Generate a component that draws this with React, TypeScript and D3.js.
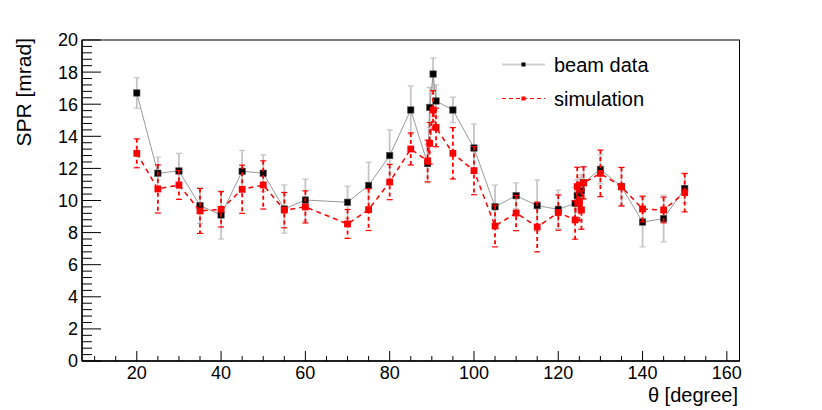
import { FC } from 'react';
import * as d3 from 'd3';

// polar angle of the beam in degrees
const theta = [20, 25, 30, 35, 40, 45, 50, 55, 60, 70, 75, 80, 85, 89, 89.5, 90.3, 91, 95, 100, 105, 110, 115, 120, 124, 124.5, 125, 125.5, 126, 130, 135, 140, 145, 150];

// beam data SPR and errors [mrad]
const beamSpr = [16.7, 11.7, 11.84, 9.68, 9.1, 11.82, 11.7, 9.47, 10.03, 9.89, 10.94, 12.8, 15.64, 12.3, 15.8, 17.88, 16.2, 15.64, 13.27, 9.61, 10.3, 9.68, 9.45, 9.82, 10.3, 10.45, 10.6, 11.1, 11.94, 10.86, 8.66, 8.87, 10.75];
const beamErr = [0.95, 1.0, 1.1, 1.1, 1.5, 1.3, 1.15, 1.5, 1.3, 1.0, 1.45, 1.6, 1.5, 1.2, 1.25, 1.0, 1.0, 0.8, 1.5, 1.35, 0.8, 1.6, 1.2, 1.0, 1.0, 1.0, 1.0, 1.0, 0.9, 1.2, 1.55, 1.45, 0.9];

// simulation SPR and errors [mrad]
const simSpr = [12.94, 10.72, 10.97, 9.35, 9.45, 10.7, 10.97, 9.4, 9.6, 8.54, 9.43, 11.15, 13.21, 12.46, 13.56, 15.64, 14.55, 12.94, 11.86, 8.41, 9.22, 8.35, 9.25, 8.79, 10.87, 9.93, 9.41, 11.1, 11.69, 10.86, 9.47, 9.41, 10.49];
const simErr = [0.9, 1.5, 0.9, 1.4, 1.1, 1.5, 1.5, 1.1, 1.0, 0.9, 1.3, 1.1, 1.0, 1.3, 1.3, 1.2, 1.2, 1.6, 1.5, 1.3, 1.1, 1.55, 1.1, 1.2, 1.2, 1.2, 1.2, 1.0, 1.45, 1.2, 0.8, 0.8, 1.2];

const xMajor = [20, 40, 60, 80, 100, 120, 140, 160];
const yMajor = [0, 2, 4, 6, 8, 10, 12, 14, 16, 18, 20];

const font = '"Liberation Sans", Arial, Helvetica, sans-serif';

const App: FC = () => {
  const W = 822;
  const H = 410;
  const left = 82, right = 739.5, top = 40, bottom = 361;

  const x = d3.scaleLinear().domain([7, 163]).range([left, right]);
  const y = d3.scaleLinear().domain([0, 20]).range([bottom, top]);

  const xMinor = d3.range(10, 163, 5).filter(v => v % 20 !== 0);
  const yMinor = d3.range(0, 20.01, 0.4).map(v => +v.toFixed(1)).filter(v => Math.abs(v / 2 - Math.round(v / 2)) > 1e-6);

  const beamPath = d3.line<number>().x((_, i) => x(theta[i])).y(d => y(d))(beamSpr) || '';
  const simPath = d3.line<number>().x((_, i) => x(theta[i])).y(d => y(d))(simSpr) || '';

  const cap = 3;

  return (
    <svg width={W} height={H} style={{ display: 'block' }}>
      <style>{`body{margin:0}`}</style>
      <rect width={W} height={H} fill="#fff" />

      {/* beam data */}
      <g>
        {theta.map((t, i) => {
          const cx = x(t);
          const y1 = y(beamSpr[i] + beamErr[i]);
          const y0 = y(beamSpr[i] - beamErr[i]);
          return (
            <g key={'be' + i} stroke="#c4c4c4" strokeWidth={1.8}>
              <line x1={cx} x2={cx} y1={y1} y2={y0} />
              <line x1={cx - cap} x2={cx + cap} y1={y1} y2={y1} strokeWidth={1.2} />
              <line x1={cx - cap} x2={cx + cap} y1={y0} y2={y0} strokeWidth={1.2} />
            </g>
          );
        })}
        <path d={beamPath} fill="none" stroke="#8c8c8c" strokeWidth={0.9} />
        {theta.map((t, i) => (
          <rect key={'bm' + i} x={x(t) - 3.2} y={y(beamSpr[i]) - 3.2} width={6.4} height={6.4}
            fill="#000" stroke="#555" strokeWidth={0.6} />
        ))}
      </g>

      {/* simulation */}
      <g>
        {theta.map((t, i) => {
          const cx = x(t);
          const y1 = y(simSpr[i] + simErr[i]);
          const y0 = y(simSpr[i] - simErr[i]);
          return (
            <g key={'se' + i} stroke="#ff0000" strokeWidth={1.8}>
              <line x1={cx} x2={cx} y1={y1} y2={y0} strokeDasharray="4,3" />
              <line x1={cx - cap} x2={cx + cap} y1={y1} y2={y1} strokeWidth={1.2} />
              <line x1={cx - cap} x2={cx + cap} y1={y0} y2={y0} strokeWidth={1.2} />
            </g>
          );
        })}
        <path d={simPath} fill="none" stroke="#ff0000" strokeWidth={1.5} strokeDasharray="5,4" />
        {theta.map((t, i) => (
          <rect key={'sm' + i} x={x(t) - 3.4} y={y(simSpr[i]) - 3.4} width={6.8} height={6.8} fill="#ff0000" />
        ))}
      </g>

      {/* frame */}
      <rect x={left} y={top} width={right - left} height={bottom - top} fill="none" stroke="#000" strokeWidth={1} />

      {/* ticks */}
      <g stroke="#000" strokeWidth={1}>
        {xMajor.map(v => (
          <line key={'xM' + v} x1={x(v)} x2={x(v)} y1={bottom} y2={bottom - 10} />
        ))}
        {xMinor.map(v => (
          <line key={'xm' + v} x1={x(v)} x2={x(v)} y1={bottom} y2={bottom - 5} />
        ))}
        {yMajor.map(v => (
          <line key={'yM' + v} x1={left} x2={left + 19} y1={y(v)} y2={y(v)} />
        ))}
        {yMinor.map(v => (
          <line key={'ym' + v} x1={left} x2={left + 10} y1={y(v)} y2={y(v)} />
        ))}
      </g>
      <line x1={left} x2={right} y1={bottom} y2={bottom} stroke="#000" strokeWidth={1.4} />
      <line x1={left} x2={left} y1={top} y2={bottom} stroke="#000" strokeWidth={1.4} />

      <g fontFamily={font} fontSize={18} fill="#000">
        {xMajor.map(v => (
          <text key={'xl' + v} x={x(v)} y={379} textAnchor="middle">{v}</text>
        ))}
        {yMajor.map(v => (
          <text key={'yl' + v} x={78} y={y(v)} dy="0.36em" textAnchor="end">{v}</text>
        ))}
      </g>

      {/* axis titles */}
      <text x={738} y={401.5} textAnchor="end" fontFamily={font} fontSize={20}>θ [degree]</text>
      <text transform={`translate(31,38) rotate(-90)`} textAnchor="end" fontFamily={font} fontSize={21}>SPR [mrad]</text>

      {/* legend */}
      <g fontFamily={font} fontSize={20}>
        <line x1={502} x2={545} y1={64.5} y2={64.5} stroke="#cfcfcf" strokeWidth={1.8} />
        <rect x={521.5} y={62.5} width={4} height={4} fill="#000" />
        <text x={554} y={71.5}>beam data</text>
        <line x1={502} x2={545} y1={98.5} y2={98.5} stroke="#ff0000" strokeWidth={1} strokeDasharray="4,3" />
        <rect x={521.5} y={96.5} width={4} height={4} fill="#ff0000" />
        <text x={554} y={105.5}>simulation</text>
      </g>
    </svg>
  );
};

export default App;
